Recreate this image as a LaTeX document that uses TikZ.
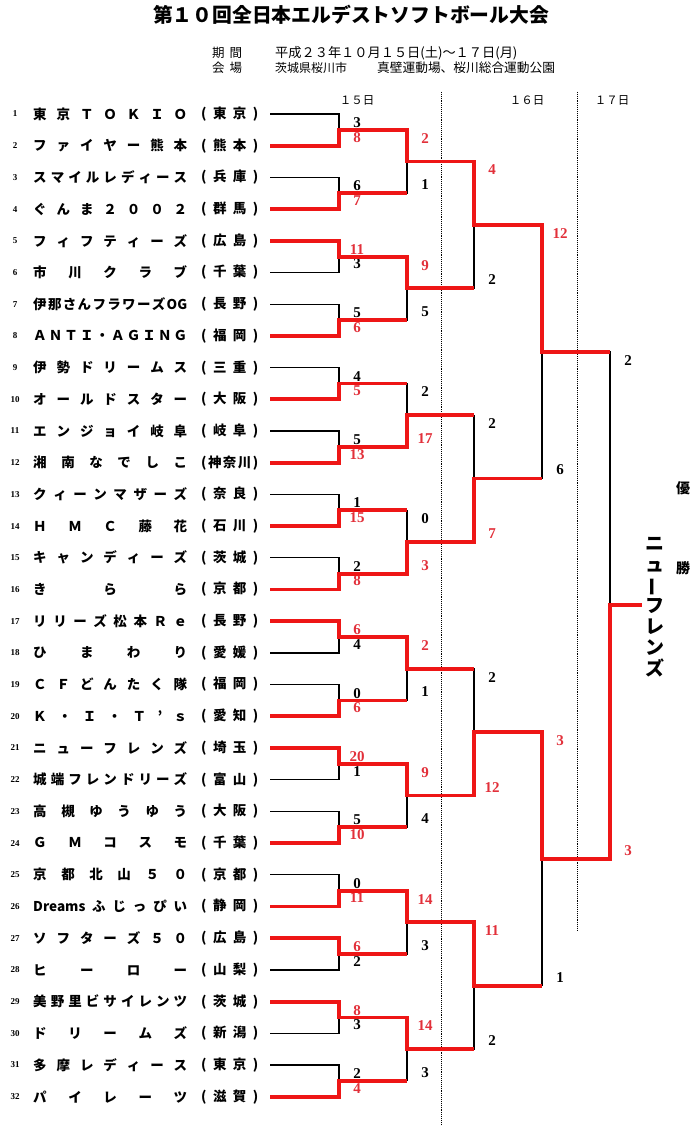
\documentclass[tikz,border=0pt]{standalone}
\usepackage{fontspec}
\setmainfont{Liberation Serif}
\newfontfamily\jpfont{Noto Sans CJK JP}
\definecolor{winred}{RGB}{238,22,22}
\definecolor{ptred}{RGB}{226,48,58}
\pgfdeclarelayer{back}
\pgfsetlayers{back,main}
\makeatletter
% spread the letters of #2 evenly over a box of width #1
\newcommand\spreadto[2]{\hbox to #1{\let\sp@gap\relax
  \expandafter\@tfor\expandafter\sp@ch\expandafter:\expandafter=#2\do{\sp@gap\sp@ch\let\sp@gap\hfill}}}
\makeatother

\begin{document}
\begin{tikzpicture}[x=1pt,y=-1pt,
  lose/.style={line width=1.2pt,black},
  win/.style={line width=3.8pt,winred},
  sep/.style={line width=0.9pt,densely dotted},
  sc/.style={inner sep=0pt,font=\fontsize{15}{15}\selectfont\bfseries},
  no/.style={inner sep=0pt,font=\fontsize{9}{9}\selectfont\bfseries},
  jp/.style={inner sep=0pt,font=\jpfont\bfseries\fontsize{13.5}{13.5}\selectfont}]
  \useasboundingbox (0,0) rectangle (700,1126);

  % heading
  \node[inner sep=0pt,font=\jpfont\bfseries\fontsize{19.8}{19.8}\selectfont] (title) at (351,15) {第１０回全日本エルデストソフトボール大会};
  \node[jp,anchor=west,font=\jpfont\fontsize{12.5}{12.5}\selectfont] (kikan) at (212,53) {\hbox to 30pt{期\hfill 間}};
  \node[jp,anchor=west,font=\jpfont\fontsize{13.2}{13.2}\selectfont] (date) at (275,53) {平成２３年１０月１５日(土)～１７日(月)};
  \node[jp,anchor=west,font=\jpfont\fontsize{12.5}{12.5}\selectfont] (kaijo) at (212,68) {\hbox to 30pt{会\hfill 場}};
  \node[jp,anchor=west,font=\jpfont\fontsize{12}{12}\selectfont] (city) at (275,68) {茨城県桜川市};
  \node[jp,anchor=west,font=\jpfont\fontsize{12.7}{12.7}\selectfont] (venue) at (377,68) {真壁運動場、桜川総合運動公園};

  % days
  \node[jp,font=\jpfont\fontsize{11.5}{11.5}\selectfont] (d15) at (357,100) {１５日};
  \node[jp,font=\jpfont\fontsize{11.5}{11.5}\selectfont] (d16) at (527,100) {１６日};
  \node[jp,font=\jpfont\fontsize{11.5}{11.5}\selectfont] (d17) at (612,100) {１７日};
  \draw[sep] (441,92) -- (441,1126);
  \draw[sep] (577,92) -- (577,930);

  % bracket points: h = left end, g = right end of each line
  \foreach \lev/\xa/\xb/\n in {0/270/339/32,1/339/407/16,2/407/474/8,3/474/542/4,4/542/610/2,5/610/642/1}
    \foreach \k in {1,...,\n} {
      \pgfmathsetmacro\yy{114+((\k-1)*2^\lev+(2^\lev-1)/2)*31.7}
      \coordinate (h\lev-\k) at (\xa,\yy);
      \coordinate (g\lev-\k) at (\xb,\yy);
    }

  % teams
  \foreach \i/\nm/\pf in {1/東京ＴＯＫＩＯ/(東京), 2/ファイヤー熊本/(熊本),
      3/スマイルレディース/(兵庫), 4/ぐんま２００２/(群馬),
      5/フィフティーズ/(広島), 6/市川クラブ/(千葉),
      7/伊那さんフラワーズ{OG}/(長野), 8/ＡＮＴＩ・ＡＧＩＮＧ/(福岡),
      9/伊勢ドリームス/(三重), 10/オールドスター/(大阪),
      11/エンジョイ岐阜/(岐阜), 12/湘南なでしこ/(神奈川),
      13/クィーンマザーズ/(奈良), 14/ＨＭＣ藤花/(石川),
      15/キャンディーズ/(茨城), 16/きらら/(京都),
      17/リリーズ松本Ｒｅ/(長野), 18/ひまわり/(愛媛),
      19/ＣＦどんたく隊/(福岡), 20/Ｋ・Ｉ・Ｔ’ｓ/(愛知),
      21/ニューフレンズ/(埼玉), 22/城端フレンドリーズ/(富山),
      23/高槻ゆうゆう/(大阪), 24/ＧＭコスモ/(千葉),
      25/京都北山５０/(京都), 26/{{Dreams}ふじっぴい}/(静岡),
      27/ソフターズ５０/(広島), 28/ヒーロー/(山梨),
      29/美野里ビサイレンツ/(茨城), 30/ドリームズ/(新潟),
      31/多摩レディース/(東京), 32/パイレーツ/(滋賀)} {
    \pgfmathsetmacro\yy{114+(\i-1)*31.7}
    \node[no] (no\i) at (15,\yy) {\i};
    \node[jp,anchor=west] (nm\i) at (33,\yy) {\spreadto{154pt}{\nm}};
    \node[jp,anchor=west] (pf\i) at (201,\yy) {\spreadto{57pt}{\pf}};
  }

  % results, top/bottom score of each game
  \foreach \lev/\res in {1/{3/8,6/7,11/3,5/6,4/5,5/13,1/15,2/8,6/4,0/6,20/1,5/10,0/11,6/2,8/3,2/4},
      2/{2/1,9/5,2/17,0/3,2/1,9/4,14/3,14/3},
      3/{4/2,2/7,2/12,11/2},
      4/{12/6,3/1},
      5/{2/3}} {
    \pgfmathtruncatemacro\prv{\lev-1}
    \foreach \sa/\sb [count=\m] in \res {
      \pgfmathtruncatemacro\ta{2*\m-1}
      \pgfmathtruncatemacro\tb{2*\m}
      \ifnum\sa>\sb\relax
        \edef\wn{\ta}\edef\ls{\tb}\def\ca{ptred}\def\cb{black}
      \else
        \edef\wn{\tb}\edef\ls{\ta}\def\ca{black}\def\cb{ptred}
      \fi
      \begin{pgfonlayer}{back}
        \draw[lose] (h\prv-\ls) -- (g\prv-\ls) -- (h\lev-\m);
      \end{pgfonlayer}
      \draw[win] (h\prv-\wn) -- (g\prv-\wn) -- (h\lev-\m) -- (g\lev-\m);
      \node[sc,text=\ca] (p\lev-\m-a) at ([shift={(18,8.5)}]g\prv-\ta) {\sa};
      \node[sc,text=\cb] (p\lev-\m-b) at ([shift={(18,-8.5)}]g\prv-\tb) {\sb};
    }
  }

  % champion
  \node[jp,font=\jpfont\bfseries\fontsize{14}{14}\selectfont] (yu) at (683,488) {優};
  \node[jp,font=\jpfont\bfseries\fontsize{14}{14}\selectfont] (sho) at (683,568) {勝};
  \node[jp,align=center,font=\jpfont\bfseries\fontsize{19}{20.8}\selectfont] (champ) at (655,607)
    {ニ\\ュ\\\rotatebox[origin=c]{90}{ー}\\フ\\レ\\ン\\ズ};
\end{tikzpicture}
\end{document}
